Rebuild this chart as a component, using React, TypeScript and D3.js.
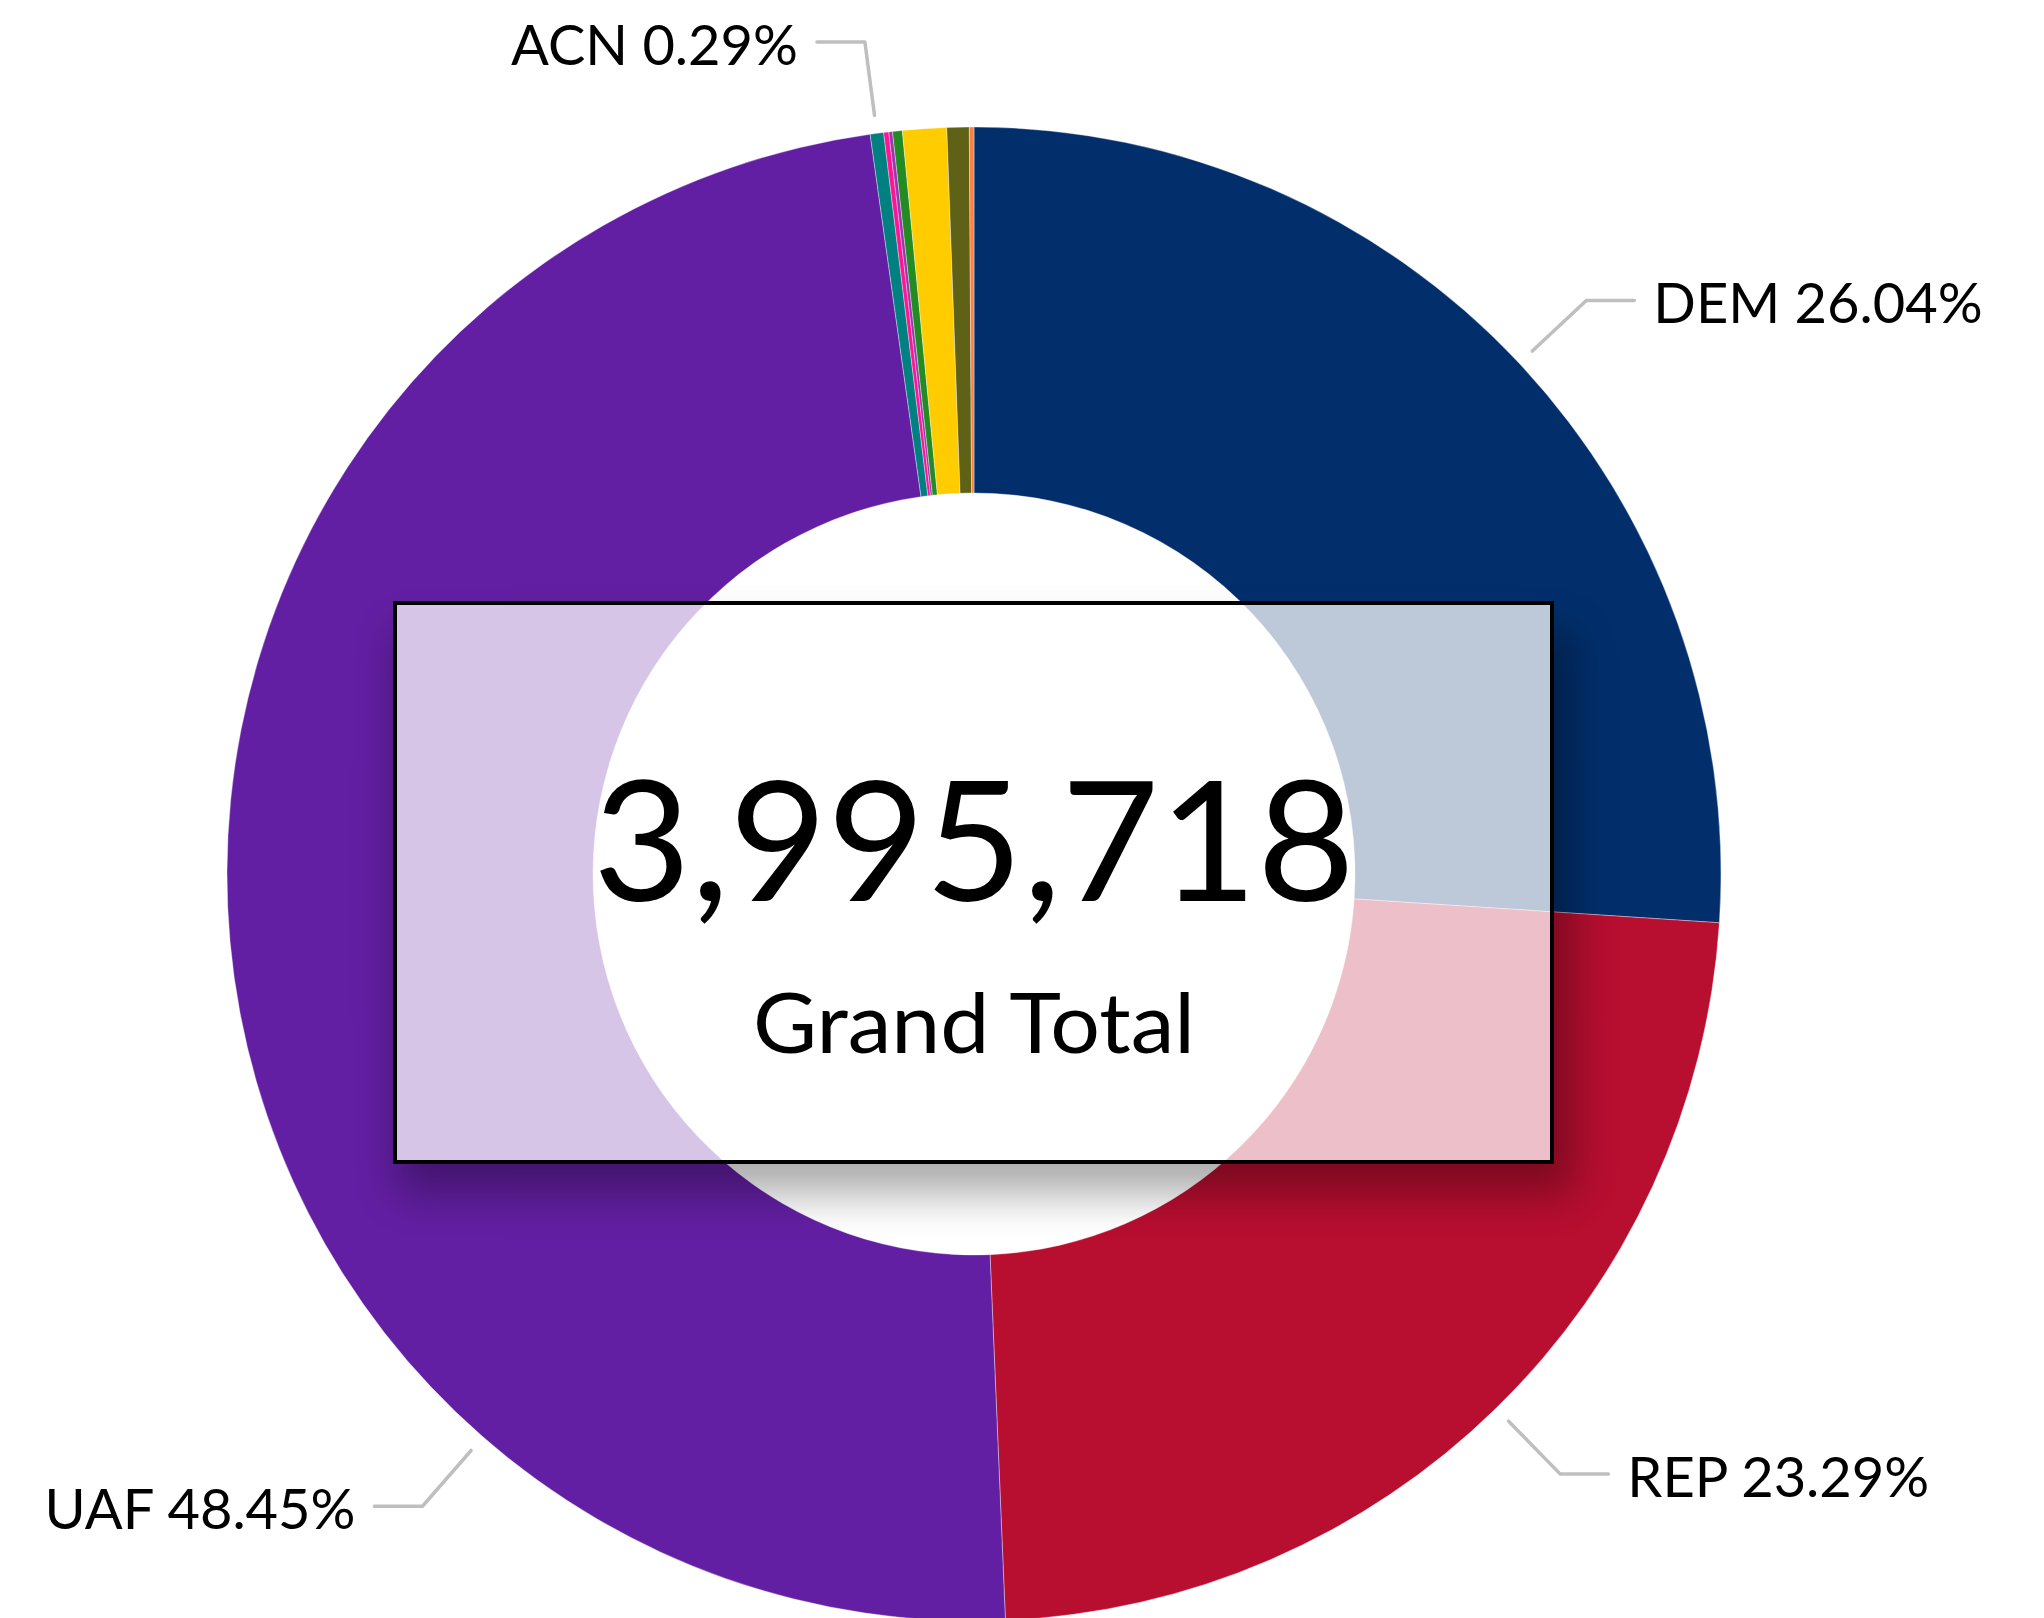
import React from "react";
import * as d3 from "d3";

// ---- data ----
const categories = ["DEM", "REP", "UAF", "ACN", "APV", "UNI", "GRN", "LBR", "CEN", "FWD"];
const percentValues = [26.04, 23.29, 48.45, 0.29, 0.11, 0.08, 0.21, 0.95, 0.48, 0.1];
const sliceColors = ["#022F6C", "#B80E30", "#631FA3", "#008080", "#FF1493", "#9B35B0", "#228B22", "#FFCC00", "#5F6117", "#FF7F3F"];
const labeledCategories = ["DEM", "REP", "UAF", "ACN"];
const grandTotal = 3995718;
const centerCaption = "Grand Total";

const W = 2044;
const H = 1618;
const FONT = "Lato, Carlito, Calibri, 'Open Sans', sans-serif";

export default function App() {
  const cx = 974;
  const cy = 874;
  const rOuter = 747;
  const rInner = 381;

  const data = categories.map((c, i) => ({ name: c, value: percentValues[i], color: sliceColors[i] }));
  const pie = d3
    .pie<any>()
    .sort(null)
    .value((d: any) => d.value)
    .startAngle(0)
    .endAngle(Math.PI * 2);
  const arcs = pie(data);
  const arcGen = d3.arc<any>().innerRadius(rInner).outerRadius(rOuter);

  // label anchor angle overrides (degrees, clockwise from top)
  const labelAngleOverride: Record<string, number> = { UAF: 221.1 };

  const box = { x: 393, y: 601, w: 1161, h: 563 };
  const border = 4;

  const labels = arcs
    .filter((a) => labeledCategories.includes(a.data.name))
    .map((a) => {
      const ang =
        labelAngleOverride[a.data.name] !== undefined
          ? (labelAngleOverride[a.data.name] * Math.PI) / 180
          : (a.startAngle + a.endAngle) / 2;
      const sx = Math.sin(ang);
      const sy = -Math.cos(ang);
      const r1 = rOuter + 18;
      const r2 = rOuter + 92;
      const p1 = [cx + sx * r1, cy + sy * r1];
      const p2 = [cx + sx * r2, cy + sy * r2];
      const side = sx >= 0 ? 1 : -1;
      const p3 = [p2[0] + side * 48, p2[1]];
      const text = `${a.data.name} ${a.data.value.toFixed(2)}%`;
      return { p1, p2, p3, side, text, key: a.data.name };
    });

  const outsideClip = `M0 0H${W}V${H}H0Z M${box.x} ${box.y}H${box.x + box.w}V${box.y + box.h}H${box.x}Z`;

  return (
    <svg
      width={W}
      height={H}
      viewBox={`0 0 ${W} ${H}`}
      style={{ position: "absolute", left: 0, top: 0, background: "#fff" }}
    >
      <defs>
        <filter id="shadowBlur" x="-30%" y="-30%" width="160%" height="160%">
          <feGaussianBlur stdDeviation="22" />
        </filter>
        <clipPath id="outsideBox">
          <path d={outsideClip} clipRule="evenodd" />
        </clipPath>
      </defs>
      <rect x={0} y={0} width={W} height={H} fill="#fff" />
      <g transform={`translate(${cx},${cy})`}>
        {arcs.map((a) => (
          <path key={a.data.name} d={arcGen(a) || ""} fill={a.data.color} stroke="#fff" strokeWidth={0.6} strokeOpacity={0.6} />
        ))}
      </g>

      {labels.map((l) => (
        <g key={l.key}>
          <polyline
            points={`${l.p1[0]},${l.p1[1]} ${l.p2[0]},${l.p2[1]} ${l.p3[0]},${l.p3[1]}`}
            fill="none"
            stroke="#BFBFBF"
            strokeWidth={3.5}
            strokeLinecap="round"
            strokeLinejoin="round"
          />
          <text
            x={l.p3[0] + l.side * 19}
            y={l.p3[1] + 23}
            textAnchor={l.side > 0 ? "start" : "end"}
            fontFamily={FONT}
            fontSize={56}
            fill="#000"
          >
            {l.text}
          </text>
        </g>
      ))}

      {/* shadow of the center box */}
      <g clipPath="url(#outsideBox)">
        <rect
          x={box.x + 4}
          y={box.y + 30}
          width={box.w + 16}
          height={box.h}
          fill="#000"
          opacity={0.33}
          filter="url(#shadowBlur)"
        />
      </g>
      <rect
        x={box.x + border / 2}
        y={box.y + border / 2}
        width={box.w - border}
        height={box.h - border}
        fill="#fff"
        fillOpacity={0.74}
        stroke="#000"
        strokeWidth={border}
      />
      <text
        x={cx}
        y={901}
        textAnchor="middle"
        fontFamily={FONT}
        fontSize={167}
        fill="#000"
        textLength={762}
        lengthAdjust="spacingAndGlyphs"
      >
        {d3.format(",")(grandTotal)}
      </text>
      <text
        x={cx}
        y={1053}
        textAnchor="middle"
        fontFamily={FONT}
        fontSize={84}
        fill="#000"
        textLength={442}
        lengthAdjust="spacingAndGlyphs"
      >
        {centerCaption}
      </text>
    </svg>
  );
}
